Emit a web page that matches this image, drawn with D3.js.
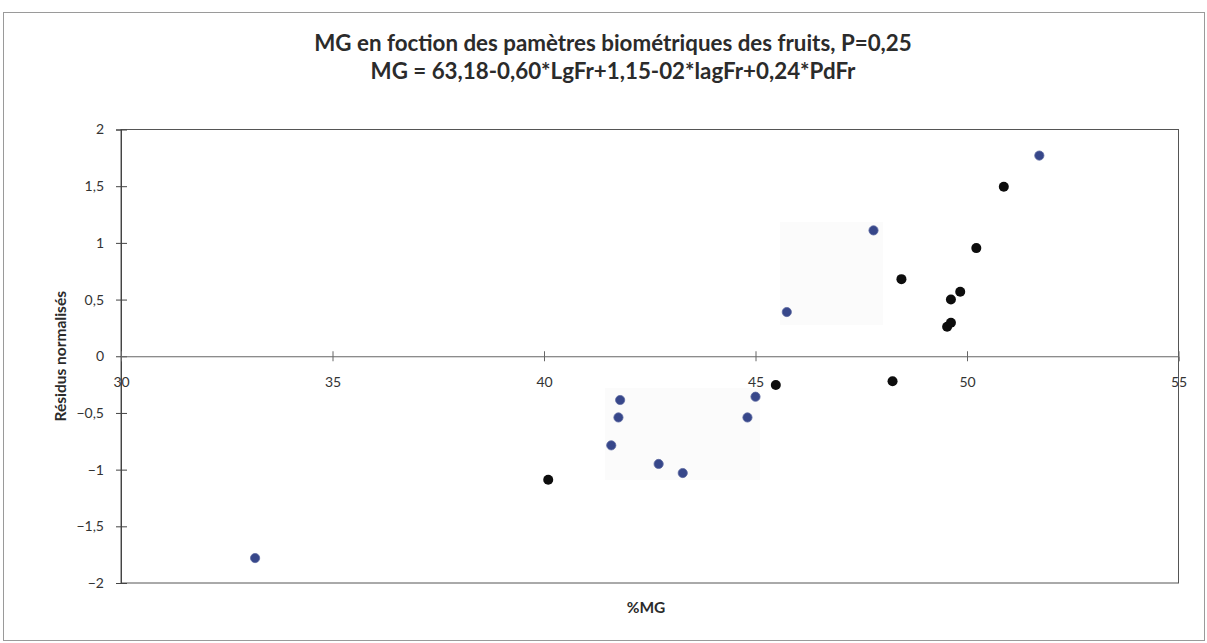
<!DOCTYPE html>
<html>
<head>
<meta charset="utf-8">
<script src="https://cdn.jsdelivr.net/npm/d3@7"></script>
<style>
  html, body { margin: 0; padding: 0; background: #fff; }
  svg { display: block; }
  text { font-family: Lato, "Open Sans", sans-serif; fill: #333; }
</style>
</head>
<body>
<svg id="chart" width="1207" height="643"></svg>
<script>
// Residuals of the fat-content model, split in two groups of fruits
const blueX = [33.17, 41.80, 41.76, 41.59, 42.71, 43.28, 44.81, 45.00, 45.74, 47.79, 51.71];
const blueY = [-1.78, -0.386, -0.54, -0.786, -0.95, -1.03, -0.54, -0.357, 0.39, 1.11, 1.77];
const blackX = [40.10, 45.48, 48.24, 48.45, 49.53, 49.62, 49.62, 49.84, 50.22, 50.87];
const blackY = [-1.09, -0.254, -0.22, 0.68, 0.26, 0.295, 0.50, 0.569, 0.954, 1.495];

const xTicks = [30, 35, 40, 45, 50, 55];
const yTicks = [-2, -1.5, -1, -0.5, 0, 0.5, 1, 1.5, 2];

const titleLines = [
  "MG en foction des pamètres biométriques des fruits, P=0,25",
  "MG = 63,18-0,60*LgFr+1,15-02*lagFr+0,24*PdFr"
];
const xTitle = "%MG";
const yTitle = "Résidus normalisés";

const svg = d3.select("#chart");
const fr = d3.formatLocale({ decimal: ",", thousands: " ", grouping: [3], currency: ["", ""] });
const fmt = fr.format("~g");

const plotL = 121, plotR = 1178.5, plotT = 129.5, plotB = 583;
const x = d3.scaleLinear().domain([30, 55]).range([plotL, plotR]);
const y = d3.scaleLinear().domain([-2, 2]).range([plotB, plotT]);

// outer chart frame
svg.append("rect")
  .attr("x", 3.5).attr("y", 12.5).attr("width", 1201).attr("height", 628)
  .attr("fill", "none").attr("stroke", "#9a9a9a").attr("stroke-width", 1);

// faint shaded patches behind the two point clusters
svg.append("rect").attr("x", 780).attr("y", 222).attr("width", 103).attr("height", 103)
  .attr("fill", "#fbfbfb");
svg.append("rect").attr("x", 605).attr("y", 388).attr("width", 155).attr("height", 92)
  .attr("fill", "#fbfbfb");

// plot area box
svg.append("rect")
  .attr("x", plotL).attr("y", plotT).attr("width", plotR - plotL).attr("height", plotB - plotT)
  .attr("fill", "none").attr("stroke", "#555").attr("stroke-width", 1);

// title, sized so the first line spans about 600px
const tg = svg.append("g").style("font-weight", 700);
const tText = titleLines.map((t, i) => tg.append("text")
  .attr("x", 613).attr("y", 51 + i * 28)
  .attr("text-anchor", "middle")
  .style("font-size", "16px")
  .style("fill", "#2b2b2b")
  .text(t));
const w0 = tText[0].node().getComputedTextLength();
const tSize = 16 * 598 / w0;
tText.forEach(t => t.style("font-size", tSize + "px"));

// y axis with crossing ticks
const yAxis = svg.append("g")
  .attr("transform", `translate(${plotL},0)`)
  .call(d3.axisLeft(y).tickValues(yTicks).tickFormat(fmt).tickSize(5).tickPadding(12));
yAxis.select(".domain").attr("stroke", "#444");
yAxis.selectAll(".tick line").attr("x1", -5).attr("x2", 6).attr("stroke", "#444");
yAxis.selectAll(".tick text")
  .attr("x", -17)
  .style("font-size", "14px").style("font-family", "Lato, sans-serif").style("fill", "#333");

// x axis drawn through zero
const xAxis = svg.append("g")
  .attr("transform", `translate(0,${y(0)})`)
  .call(d3.axisBottom(x).tickValues(xTicks).tickFormat(fmt).tickSize(5).tickPadding(14));
xAxis.select(".domain").attr("stroke", "#666");
xAxis.selectAll(".tick line").attr("y1", -5).attr("y2", 5).attr("stroke", "#666");
xAxis.selectAll(".tick text")
  .attr("dy", "0.85em")
  .style("font-size", "14px").style("font-family", "Lato, sans-serif").style("fill", "#333");

// axis titles
svg.append("text")
  .attr("transform", `translate(66,${(plotT + plotB) / 2}) rotate(-90)`)
  .attr("text-anchor", "middle")
  .style("font-size", "15.5px").style("font-weight", 700).style("fill", "#2b2b2b")
  .text(yTitle);

svg.append("text")
  .attr("x", 646).attr("y", 613)
  .attr("text-anchor", "middle")
  .style("font-size", "15.5px").style("font-weight", 700).style("fill", "#2b2b2b")
  .text(xTitle);

// points
const blue = blueX.map((v, i) => ({ x: v, y: blueY[i] }));
const black = blackX.map((v, i) => ({ x: v, y: blackY[i] }));

svg.append("g").selectAll("circle").data(blue).join("circle")
  .attr("cx", d => x(d.x)).attr("cy", d => y(d.y)).attr("r", 4.6)
  .attr("fill", "#37478a").attr("stroke", "#5a67a0").attr("stroke-width", 0.8);

svg.append("g").selectAll("circle").data(black).join("circle")
  .attr("cx", d => x(d.x)).attr("cy", d => y(d.y)).attr("r", 5)
  .attr("fill", "#0d0d0d");
</script>
</body>
</html>
